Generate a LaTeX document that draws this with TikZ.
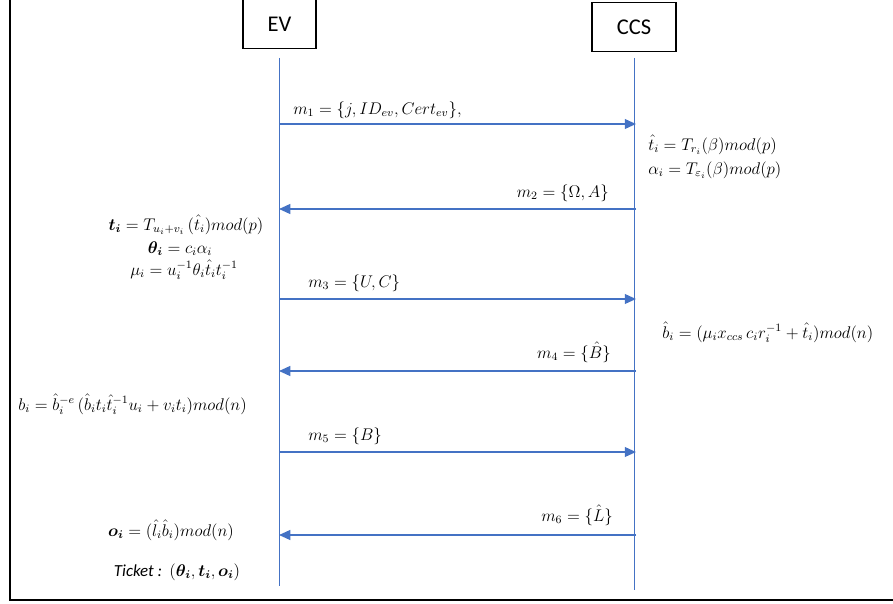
\documentclass[tikz,border=0pt]{standalone}
\usepackage{amsmath}
\usepackage{bm}
\usepackage{fontspec}
\setsansfont{Carlito}
\usetikzlibrary{arrows.meta}
\definecolor{msgblue}{HTML}{4472C4}
\newlength{\pxu}
\setlength{\pxu}{0.025cm}
\tikzset{
  party/.style={draw=black, line width=0.8pt, minimum height=49\pxu, font=\sffamily\fontsize{16}{18}\selectfont},
  lifeline/.style={draw=msgblue, line width=0.6pt},
  msg/.style={draw=msgblue, line width=1.1pt, -{Triangle[length=8pt,width=7pt]}},
  note/.style={inner sep=0pt, font=\fontsize{12}{14}\selectfont}
}
\begin{document}
\begin{tikzpicture}[x=0.025cm, y=-0.025cm]
  \useasboundingbox (0,0) rectangle (893,604);
  % outer frame
  \draw[line width=1.2pt] (10,-5) rectangle (905,600);
  % parties
  \node[party, minimum width=73\pxu] (ev) at (279.5,24) {EV};
  \node[party, minimum width=84\pxu] (ccs) at (634,27) {CCS};
  % lifelines
  \coordinate (evtop) at (279,58);
  \coordinate (evbot) at (279,586);
  \coordinate (ccstop) at (634,58);
  \coordinate (ccsbot) at (634,590);
  \draw[lifeline] (evtop) -- (evbot);
  \draw[lifeline] (ccstop) -- (ccsbot);
  % message ends
  \foreach \n/\y in {1/124,2/209,3/299,4/371,5/452,6/535}{
    \coordinate (e\n) at (279,\y);
    \coordinate (c\n) at (636,\y);
  }
  % messages
  \draw[msg] (e1) -- (c1);
  \node[note, anchor=base west] (m1) at (293,114) {$m_1=\{j,ID_{ev},Cert_{ev}\},$};
  \draw[msg] (c2) -- (e2);
  \node[note, anchor=base east] (m2) at (609,197) {$m_2=\{\Omega,A\}$};
  \draw[msg] (e3) -- (c3);
  \node[note, anchor=base west] (m3) at (308,287) {$m_3=\{U,C\}$};
  \draw[msg] (c4) -- (e4);
  \node[note, anchor=base east] (m4) at (611,358) {$m_4=\{\hat{B}\}$};
  \draw[msg] (e5) -- (c5);
  \node[note, anchor=base west] (m5) at (308,440) {$m_5=\{B\}$};
  \draw[msg] (c6) -- (e6);
  \node[note, anchor=base east] (m6) at (613,521) {$m_6=\{\hat{L}\}$};
  % CCS computations
  \node[note, anchor=base west] (that) at (648,150) {$\hat{t}_i=T_{r_i}(\beta)mod(p)$};
  \node[note, anchor=base west] (alpha) at (648,174) {$\alpha_i=T_{\varepsilon_i}(\beta)mod(p)$};
  \node[note, anchor=base west] (bhat) at (662,338) {$\hat{b}_i=(\mu_i x_{ccs}\,c_i r_i^{-1}+\hat{t}_i)mod(n)$};
  % EV computations
  \node[note, anchor=base] (ti) at (186,230) {$\bm{t_i}=T_{u_i+v_i}\,(\hat{t}_i)mod(p)$};
  \node[note, anchor=base] (theta) at (180,253) {$\bm{\theta_i}=c_i\alpha_i$};
  \node[note, anchor=base] (mu) at (184,275) {$\mu_i=u_i^{-1}\theta_i\hat{t}_i t_i^{-1}$};
  \node[note, anchor=base west] (bi) at (18,410) {$b_i=\hat{b}_i^{-e}\,(\hat{b}_i t_i\hat{t}_i^{-1}u_i+v_i t_i)mod(n)$};
  \node[note, anchor=base] (oi) at (171,536) {$\bm{o_i}=(\hat{l}_i\hat{b}_i)mod(n)$};
  \node[note, anchor=base] (ticket) at (177,576) {\textit{\sffamily Ticket :} $(\bm{\theta_i},\bm{t_i},\bm{o_i})$};
\end{tikzpicture}
\end{document}
